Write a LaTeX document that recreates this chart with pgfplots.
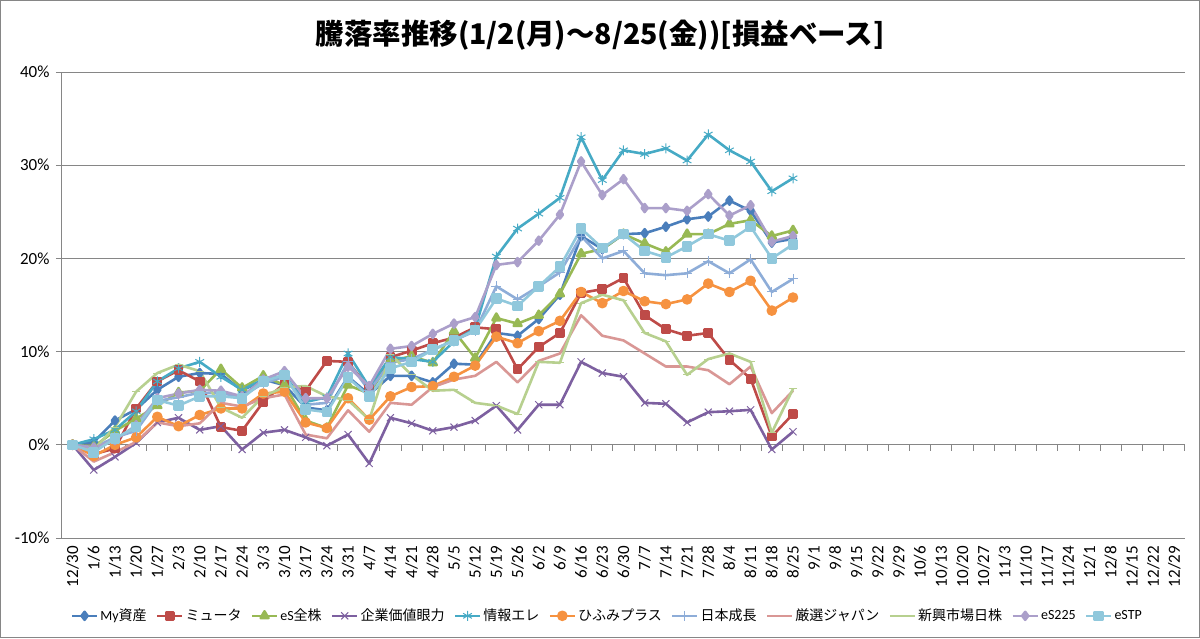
\documentclass[border=0pt]{standalone}
\usepackage{pgfplots}
\pgfplotsset{compat=1.18}
\usepackage{pgfplotstable}
\usepackage{fontspec}
\setmainfont{Carlito}
\newfontfamily\jp{Noto Sans CJK JP}
\usetikzlibrary{plotmarks}
\definecolor{cblue}{HTML}{4A7EBB}
\definecolor{cred}{HTML}{BE4B48}
\definecolor{cgreen}{HTML}{98B954}
\definecolor{cpurple}{HTML}{7D60A0}
\definecolor{ccyan}{HTML}{46AAC5}
\definecolor{corange}{HTML}{F69240}
\definecolor{cnihon}{HTML}{8EADD8}
\definecolor{cpink}{HTML}{D99795}
\definecolor{clgreen}{HTML}{B7D08F}
\definecolor{clav}{HTML}{AB9FCA}
\definecolor{cestp}{HTML}{90C8DC}
\definecolor{gridgray}{HTML}{868686}
\pgfplotstableread{
x blue red green purple cyan orange nihon pink lgreen lav estp
0 0 0 0 0 0 0 0 0 0 0 0
1 0.3 -1.0 -0.2 -2.7 0.6 -1.2 -0.3 -1.8 -0.5 -0.3 -0.8
2 2.6 -0.4 1.5 -1.3 1.6 0.0 0.8 -0.8 1.9 0.5 0.7
3 3.8 3.9 2.8 0.2 3.6 0.8 1.5 0.3 5.7 2.1 1.9
4 5.9 6.8 4.2 2.4 6.8 3.0 4.7 2.4 7.7 5.0 4.8
5 7.3 8.0 5.6 2.9 8.2 2.0 5.1 2.0 8.6 5.5 4.2
6 7.7 6.8 5.8 1.6 8.9 3.2 5.6 2.3 7.9 5.9 5.2
7 7.6 1.9 8.1 2.0 7.3 3.9 5.5 4.5 4.0 5.8 5.2
8 5.8 1.5 6.1 -0.5 5.9 3.9 5.2 4.1 2.9 5.2 5.0
9 7.0 4.6 7.4 1.3 7.0 5.5 6.6 5.0 5.2 7.0 6.8
10 6.4 6.6 6.4 1.6 7.4 5.7 7.3 5.4 6.2 7.9 7.5
11 4.0 5.8 2.6 0.8 4.6 2.4 4.3 1.1 6.3 5.0 3.8
12 3.7 9.0 1.8 -0.1 5.1 1.8 4.5 0.7 5.2 5.0 3.5
13 7.3 8.9 6.4 1.1 9.8 5.0 8.9 3.7 4.8 8.4 7.2
14 5.4 6.0 5.5 -2.0 6.2 2.7 5.8 1.4 2.7 6.3 5.2
15 7.4 9.4 9.0 2.9 9.4 5.2 8.8 4.5 9.7 10.3 8.2
16 7.4 10.1 9.5 2.3 9.2 6.2 9.2 4.3 7.5 10.6 8.9
17 6.7 10.9 8.8 1.5 8.9 6.3 10.2 6.2 5.8 11.9 10.2
18 8.7 11.5 12.2 1.9 11.1 7.3 11.2 7.0 5.9 13.0 11.2
19 8.6 12.6 9.3 2.6 12.5 8.5 12.2 7.4 4.5 13.7 12.3
20 12.0 12.4 13.6 4.2 20.2 11.6 17.0 8.9 4.2 19.3 15.7
21 11.7 8.1 13.0 1.6 23.2 10.9 15.6 6.7 3.3 19.6 14.9
22 13.5 10.5 13.9 4.3 24.8 12.2 17.0 9.0 8.9 21.9 17.0
23 16.1 12.0 16.2 4.3 26.5 13.3 18.5 9.8 8.8 24.7 19.1
24 22.4 16.3 20.5 8.9 33.0 16.4 22.4 13.9 15.2 30.4 23.2
25 21.0 16.7 21.0 7.7 28.4 15.2 20.0 11.7 16.1 26.8 21.1
26 22.6 17.9 22.6 7.3 31.6 16.5 20.8 11.2 15.5 28.5 22.6
27 22.7 13.9 21.6 4.5 31.2 15.4 18.4 9.8 12.0 25.4 20.8
28 23.4 12.4 20.7 4.4 31.8 15.1 18.2 8.4 11.1 25.4 20.1
29 24.2 11.7 22.6 2.4 30.5 15.6 18.4 8.4 7.5 25.1 21.3
30 24.5 12.0 22.6 3.5 33.3 17.3 19.7 8.0 9.2 26.9 22.6
31 26.2 9.1 23.7 3.6 31.6 16.4 18.4 6.5 9.8 24.6 21.9
32 25.1 7.1 24.1 3.75 30.4 17.6 19.9 8.4 8.9 25.7 23.4
33 21.7 0.9 22.4 -0.5 27.2 14.4 16.4 3.4 1.3 21.8 20.0
34 22.1 3.3 23.0 1.4 28.6 15.8 17.8 5.8 6.0 22.4 21.5
}\datatable
\begin{document}
\begin{tikzpicture}[x=1pt,y=1pt]
\draw[gridgray,line width=1pt] (0.5,0.5) rectangle (1199.5,637.5);
\node[font=\fontsize{28.5}{32}\selectfont\jp\bfseries] at (600,603) {騰落率推移(1/2(月)～8/25(金))[損益ベース]};
\begin{axis}[
  at={(62pt,100pt)}, anchor=south west,
  scale only axis, width=1123pt, height=466pt,
  xmin=-0.5, xmax=52.5, ymin=-10, ymax=40,
  axis lines*=left,
  axis line style={gridgray, line width=1pt},
  ytick={-10,0,10,20,30,40},
  yticklabels={-10\%,0\%,10\%,20\%,30\%,40\%},
  ymajorgrids, grid style={gridgray, line width=1pt},
  ytick style={gridgray, line width=1pt},
  tick align=outside, major tick length=6pt,
  xtick={0,...,52},
  xtick style={draw=none},
  xticklabels={12/30,1/6,1/13,1/20,1/27,2/3,2/10,2/17,2/24,3/3,3/10,3/17,3/24,3/31,4/7,4/14,4/21,4/28,5/5,5/12,5/19,5/26,6/2,6/9,6/16,6/23,6/30,7/7,7/14,7/21,7/28,8/4,8/11,8/18,8/25,9/1,9/8,9/15,9/22,9/29,10/6,10/13,10/20,10/27,11/3,11/10,11/17,11/24,12/1,12/8,12/15,12/22,12/29},
  x tick label style={rotate=90, anchor=east, font=\fontsize{17}{20}\selectfont, inner sep=2pt},
  y tick label style={font=\fontsize{17}{20}\selectfont, xshift=-3pt},
  legend style={at={(0.005,-0.167)}, anchor=west, draw=none, fill=none,
    font=\fontsize{14}{16}\selectfont, legend columns=-1,
    /tikz/every even column/.append style={column sep=7.2pt}},
  legend image code/.code={\draw[mark repeat=2,mark phase=2,#1] plot coordinates {(0pt,0pt) (12.5pt,0pt) (25pt,0pt)};},
  every axis plot/.append style={line width=2.6pt, line join=round},
]
\pgfplotsinvokeforeach{-0.5,0.5,...,52.5}{\draw[gridgray,line width=1pt] (axis cs:#1,0) -- ([yshift=-6pt]axis cs:#1,0);}
\addplot[cblue, mark=diamond*, mark size=4pt, mark options={solid}] table[x=x,y=blue]{\datatable};
\addlegendentry{My{\jp 資産}}
\addplot[cred, mark=square*, mark size=3.6pt] table[x=x,y=red]{\datatable};
\addlegendentry{{\jp ミュータ}}
\addplot[cgreen, mark=triangle*, mark size=4.5pt] table[x=x,y=green]{\datatable};
\addlegendentry{eS{\jp 全株}}
\addplot[cpurple, mark=x, mark size=5pt, mark options={line width=1pt}] table[x=x,y=purple]{\datatable};
\addlegendentry{{\jp 企業価値眼力}}
\addplot[ccyan, mark=asterisk, mark size=5pt, mark options={line width=1pt}] table[x=x,y=cyan]{\datatable};
\addlegendentry{{\jp 情報エレ}}
\addplot[corange, mark=*, mark size=4pt] table[x=x,y=orange]{\datatable};
\addlegendentry{{\jp ひふみプラス}}
\addplot[cnihon, mark=+, mark size=5pt, mark options={line width=1pt}] table[x=x,y=nihon]{\datatable};
\addlegendentry{{\jp 日本成長}}
\addplot[cpink] table[x=x,y=pink]{\datatable};
\addlegendentry{{\jp 厳選ジャパン}}
\addplot[clgreen, mark=-, mark size=4pt, mark options={line width=1pt}] table[x=x,y=lgreen]{\datatable};
\addlegendentry{{\jp 新興市場日株}}
\addplot[clav, mark=diamond*, mark size=4pt] table[x=x,y=lav]{\datatable};
\addlegendentry{eS225}
\addplot[cestp, mark=square*, mark size=4pt] table[x=x,y=estp]{\datatable};
\addlegendentry{eSTP}
\end{axis}
\pgfresetboundingbox
\useasboundingbox (0,0) rectangle (1200,638);
\end{tikzpicture}
\end{document}
